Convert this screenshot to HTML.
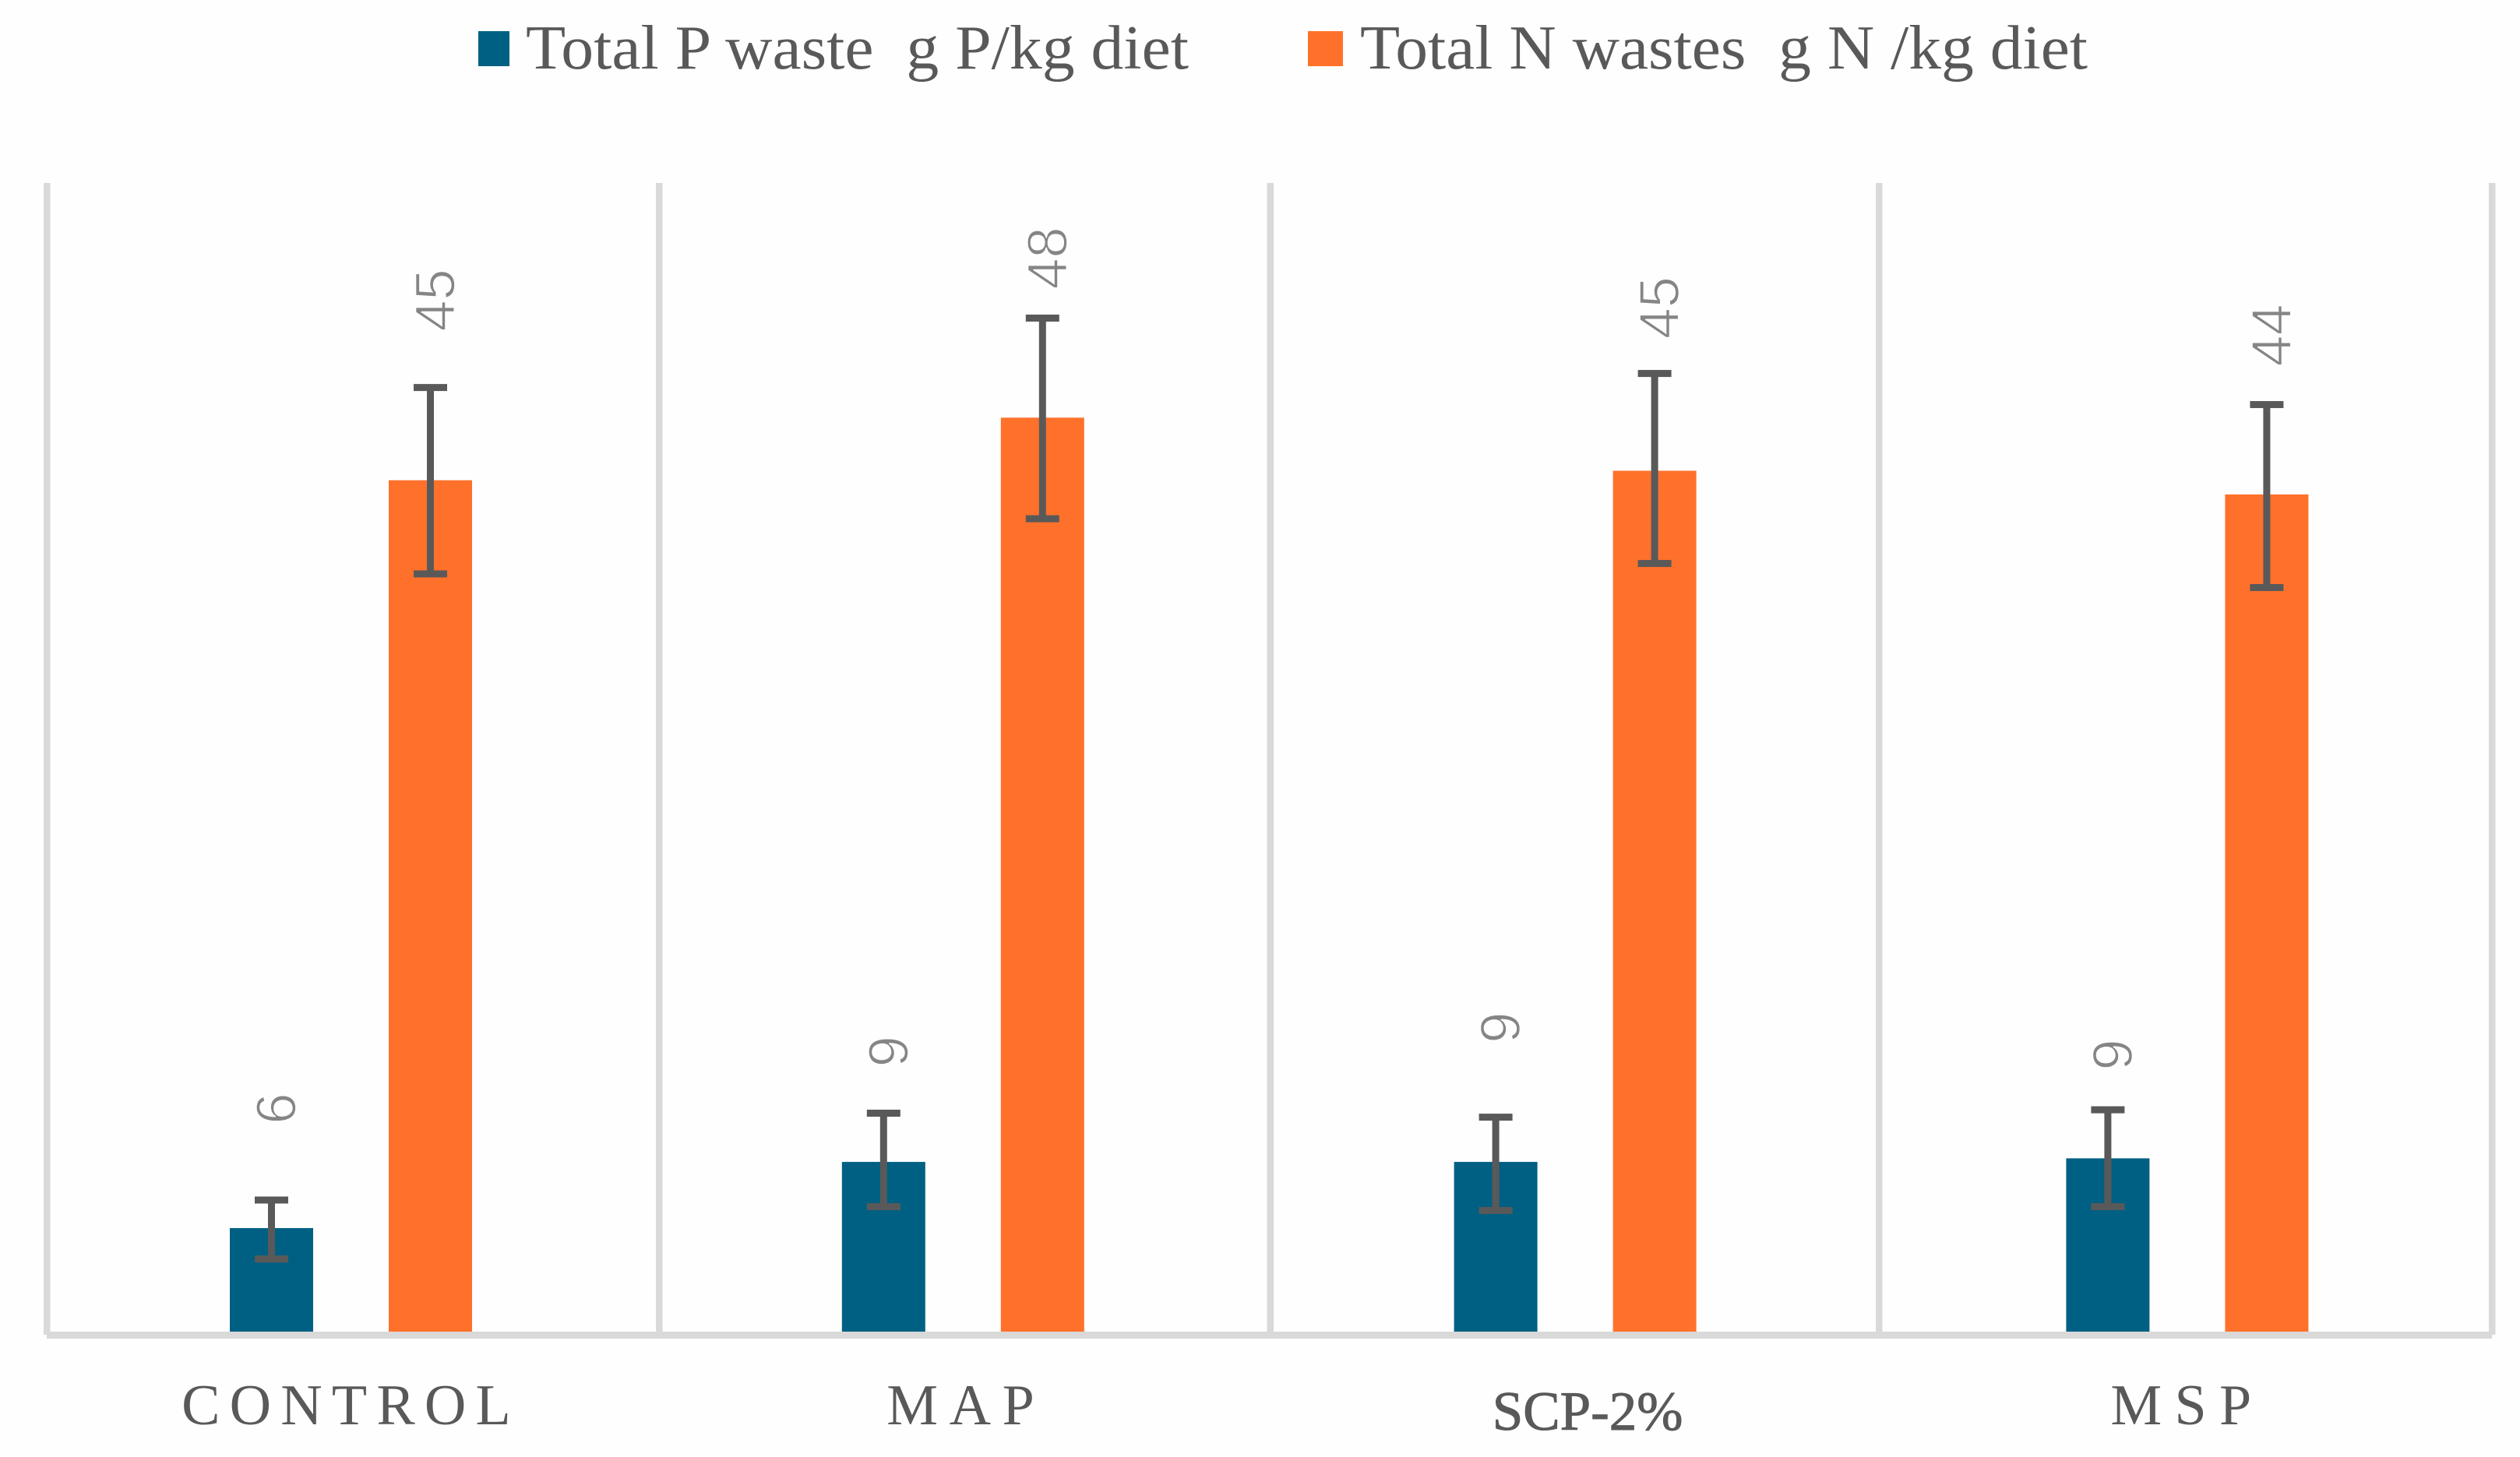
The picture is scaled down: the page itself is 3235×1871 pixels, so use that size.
<!DOCTYPE html>
<html lang="en">
<head>
<meta charset="utf-8">
<title>Total P and N wastes by diet</title>
<style>
  html, body { margin: 0; padding: 0; background: #fefefe; }
  body { width: 3235px; height: 1871px; overflow: hidden; }
  svg { display: block; }
  .legend-text { font-family: "Liberation Serif", serif; font-size: 80px; fill: #595959; white-space: pre; }
  .cat { font-family: "Liberation Serif", serif; fill: #595959; }
  .val { font-family: "Liberation Sans", sans-serif; font-size: 72px; fill: #858585; stroke: #fefefe; stroke-width: 1.6px; }
</style>
</head>
<body>
<svg id="chart" xmlns="http://www.w3.org/2000/svg" width="3235" height="1871" viewBox="0 0 3235 1871">
  <rect x="0" y="0" width="3235" height="1871" fill="#fefefe"/>

  <g>
    <rect x="614" y="40" width="40" height="45" fill="#006083"/>
    <text class="legend-text" x="675" y="88" textLength="851" lengthAdjust="spacingAndGlyphs">Total P waste  g P/kg diet</text>
    <rect x="1679" y="40" width="45" height="45" fill="#ff712b"/>
    <text class="legend-text" x="1746" y="88" textLength="934" lengthAdjust="spacingAndGlyphs">Total N wastes  g N /kg diet</text>
  </g>

  <g fill="#d9d9d9">
    <rect x="56" y="235" width="8.5" height="1479"/>
    <rect x="842" y="235" width="8.5" height="1479"/>
    <rect x="1626.5" y="235" width="8.5" height="1479"/>
    <rect x="2408" y="235" width="8.5" height="1479"/>
    <rect x="3195" y="235" width="8.5" height="1479"/>
    <rect x="60" y="1710" width="3139" height="9"/>
  </g>

  <g id="bars"></g>
  <g id="errors"></g>
  <g id="values"></g>
  <g id="categories"></g>
</svg>

<script>
// Chart data (value units)
const categories = ["CONTROL", "MAP", "SCP-2%", "MSP"];

const pWaste = [5.46, 8.95, 8.95, 9.14];
const nWaste = [44.9, 48.2, 45.4, 44.15];

const pHigh = [6.94, 11.52, 11.31, 11.70];
const pLow  = [3.83, 6.59, 6.39, 6.59];
const nHigh = [49.79, 53.45, 50.53, 48.89];
const nLow  = [39.96, 42.87, 40.51, 39.24];

const pLabels = ["6", "9", "9", "9"];
const nLabels = ["45", "48", "45", "44"];

// Clearance of each printed value above its error bar, in value units
const pLabelLift = [4.0, 2.43, 3.9, 2.08];
const nLabelLift = [2.96, 1.52, 1.82, 2.01];

// Axis functions
const BASE_Y = 1710;
const UNIT_PX = 24.35;
const GROUP_X0 = 450.5;
const GROUP_STEP = 785.8;
const BAR_OFFSET = 102;
const BAR_W = 107;
const STEM_W = 9;
const CAP_W = 43;
const CAP_H = 9;
const LABEL_DX = 31;

function yScale(v) { return BASE_Y - v * UNIT_PX; }
function xGroup(i) { return GROUP_X0 + i * GROUP_STEP; }

const NS = "http://www.w3.org/2000/svg";

function svgEl(tag, parent) {
  const el = document.createElementNS(NS, tag);
  parent.appendChild(el);
  return el;
}

function setRect(el, x, y, w, h, fill) {
  el.setAttribute("x", x);
  el.setAttribute("y", y);
  el.setAttribute("width", w);
  el.setAttribute("height", h);
  el.setAttribute("fill", fill);
}

const barsG = document.getElementById("bars");
const errorsG = document.getElementById("errors");
const valuesG = document.getElementById("values");
const catsG = document.getElementById("categories");

function drawSeries(key, values, highs, lows, labels, lifts, sign, color) {
  values.forEach(function (v, i) {
    const cx = xGroup(i) + sign * BAR_OFFSET;
    const cat = categories[i].toLowerCase().replace(/[^a-z0-9]+/g, "");

    const bar = svgEl("rect", barsG);
    setRect(bar, cx - BAR_W / 2, yScale(v), BAR_W, BASE_Y - yScale(v), color);
    
    

    const stem = svgEl("rect", errorsG);
    setRect(stem, cx - STEM_W / 2, yScale(highs[i]), STEM_W, yScale(lows[i]) - yScale(highs[i]), "#595959");
    
    

    const capTop = svgEl("rect", errorsG);
    setRect(capTop, cx - CAP_W / 2, yScale(highs[i]) - CAP_H / 2, CAP_W, CAP_H, "#595959");
    
    

    const capBottom = svgEl("rect", errorsG);
    setRect(capBottom, cx - CAP_W / 2, yScale(lows[i]) - CAP_H / 2, CAP_W, CAP_H, "#595959");
    
    

    const label = svgEl("text", valuesG);
    const lx = cx + LABEL_DX;
    const ly = yScale(highs[i] + lifts[i]);
    label.setAttribute("class", "val");
    label.setAttribute("transform", "translate(" + lx + " " + ly + ") rotate(-90)");
    label.textContent = labels[i];
    
    
  });
}

drawSeries("p-waste", pWaste, pHigh, pLow, pLabels, pLabelLift, -1, "#006083");
drawSeries("n-wastes", nWaste, nHigh, nLow, nLabels, nLabelLift, 1, "#ff712b");

// Category label typography (the source chart styles each label by hand)
const catSpacing = [12.2, 14.6, 0, 16.3];
const catSize = [74, 74, 71, 74];
const catBaseline = [1829, 1829, 1836, 1829];
const catNudge = [0, 4, 16, 0];
const catWeight = [0, 0, 1, 0];

categories.forEach(function (name, i) {
  const t = svgEl("text", catsG);
  t.setAttribute("class", "cat");
  t.setAttribute("x", xGroup(i) + catNudge[i]);
  t.setAttribute("y", catBaseline[i]);
  t.setAttribute("text-anchor", "middle");
  t.setAttribute("font-size", catSize[i]);
  t.setAttribute("letter-spacing", catSpacing[i]);
  t.setAttribute("stroke", "#595959");
  t.setAttribute("stroke-width", catWeight[i]);
  t.textContent = name;
  
  
});
</script>
</body>
</html>
